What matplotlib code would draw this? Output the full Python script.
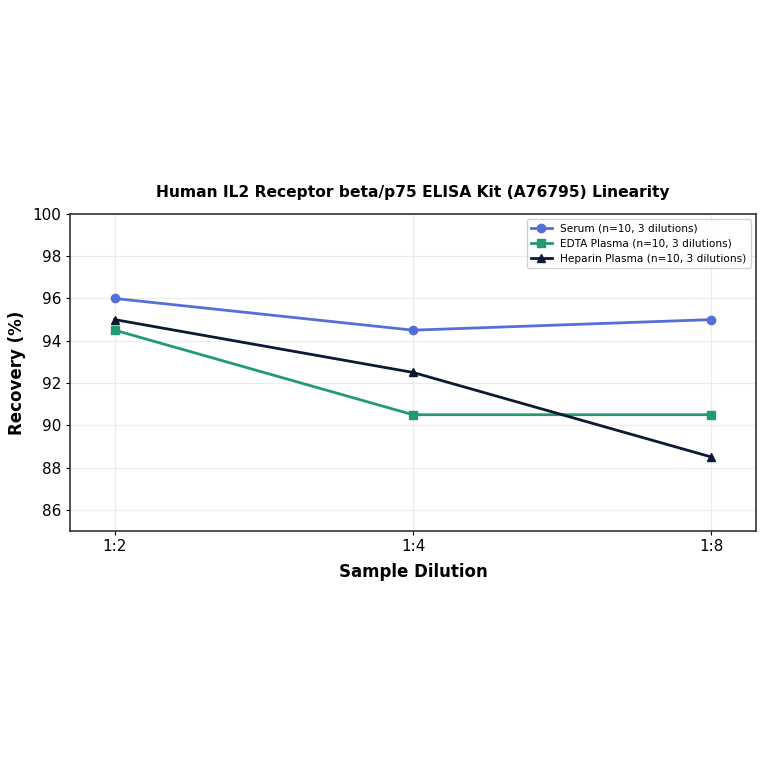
import numpy as np
from matplotlib import pyplot as plt

dilutions = ['1:2', '1:4', '1:8']
serum = [96.0, 94.5, 95.0]
edta = [94.5, 90.5, 90.5]
heparin = [95.0, 92.5, 88.5]

labels = ['Serum (n=10, 3 dilutions)',
          'EDTA Plasma (n=10, 3 dilutions)',
          'Heparin Plasma (n=10, 3 dilutions)']

fig = plt.figure(figsize=(7.64, 7.64), dpi=100)
ax = fig.add_axes([0.0916, 0.305, 0.898, 0.415])

x = np.arange(len(dilutions))
for y, col, mk, lab in zip([serum, edta, heparin],
                           ['#5470d8', '#249a70', '#0c1a35'],
                           ['o', 's', '^'],
                           labels):
    ax.plot(x, y, marker=mk, color=col, linewidth=2, markersize=6, label=lab)

ax.set_xticks(x)
ax.set_xticklabels(dilutions)
ax.set_xlim(-0.15, 2.15)
ax.set_ylim(85, 100)
ax.set_yticks([86, 88, 90, 92, 94, 96, 98, 100])
ax.tick_params(labelsize=11, length=3, pad=3)
ax.grid(True, color='#e6e6e6', linewidth=0.8, alpha=0.8)
for s in ax.spines.values():
    s.set_color('#333333')
    s.set_linewidth(1.2)

ax.set_xlabel('Sample Dilution', fontsize=12, fontweight='bold', labelpad=6)
ax.set_ylabel('Recovery (%)', fontsize=12, fontweight='bold', labelpad=5)
ax.set_title('Human IL2 Receptor beta/p75 ELISA Kit (A76795) Linearity',
             fontsize=11.2, fontweight='bold', pad=12)
ax.legend(loc='upper right', fontsize=7.6, framealpha=0.9)

plt.savefig('out.png', dpi=100)
